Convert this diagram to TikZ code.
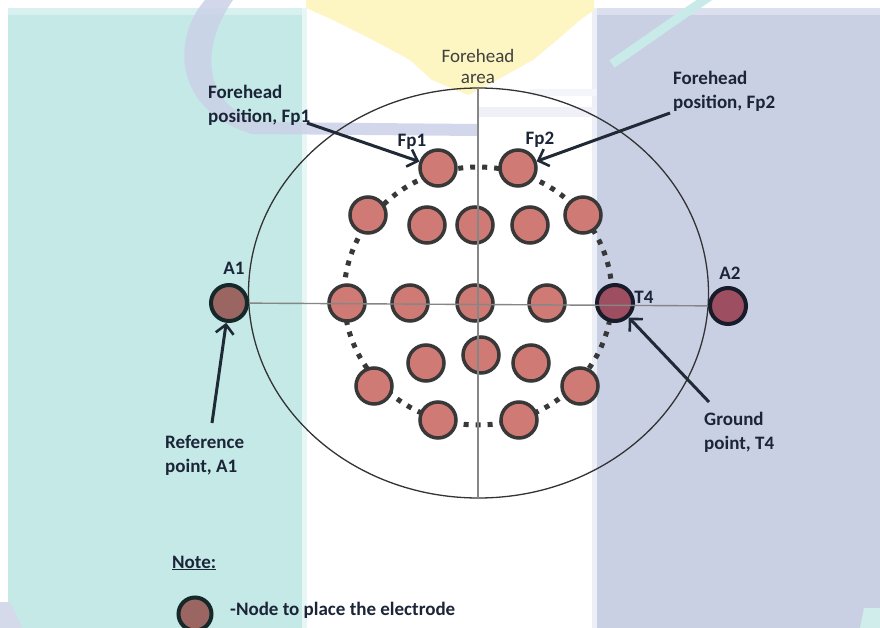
\documentclass[tikz,border=0pt]{standalone}
\usepackage{fontspec}
\setmainfont{Carlito}
\usetikzlibrary{arrows.meta}

\definecolor{tealbg}{HTML}{C4E9E7}
\definecolor{tealtop}{HTML}{D8F0EF}
\definecolor{lavbg}{HTML}{C9D0E4}
\definecolor{lavtop}{HTML}{DCE0EE}
\definecolor{swoosh}{HTML}{CCD1E8}
\definecolor{yel}{HTML}{FDF5C2}
\definecolor{tealdiag}{HTML}{C8EAE8}
\definecolor{skin}{HTML}{CF7A74}
\definecolor{rim}{HTML}{383838}
\definecolor{refill}{HTML}{9B6661}
\definecolor{refrim}{HTML}{15282A}
\definecolor{gndfill}{HTML}{9D4F61}
\definecolor{gndrim}{HTML}{181C2A}
\definecolor{ink}{HTML}{1C2538}
\definecolor{arrowink}{HTML}{1F2A36}
\definecolor{axisgray}{HTML}{868686}

\tikzset{
  elec/.style={circle, draw=rim, fill=skin, line width=3.5pt,
               minimum size=36pt, inner sep=0pt},
  refelec/.style={elec, draw=refrim, fill=refill, line width=4pt},
  gndelec/.style={elec, draw=gndrim, fill=gndfill, line width=4pt},
  axisline/.style={draw=axisgray, line width=1.4pt},
  headline/.style={draw=black!80, line width=1.3pt},
  ringdots/.style={draw=black!78, line width=5pt, dash pattern=on 5pt off 7pt},
  pointer/.style={draw=arrowink, line width=3pt,
                  -{Straight Barb[length=9pt,width=18pt,line width=2.6pt]}},
  lbl/.style={inner sep=0pt, text=ink, font=\fontsize{19}{24}\selectfont\bfseries},
  blockl/.style={lbl, align=left, anchor=west},
}

\begin{document}
\begin{tikzpicture}[x=1pt,y=-1pt]
\useasboundingbox (0,0) rectangle (880,628);

% ---- background panels ----
\fill[white] (0,0) rectangle (880,628);
\fill[tealbg] (8,8) rectangle (302,628);
\fill[tealtop] (8,8) rectangle (302,15);
\fill[tealtop!60!white] (302,8) rectangle (307,628);
\fill[lavbg] (597,8) rectangle (880,628);
\fill[lavtop] (597,8) rectangle (880,15);
\fill[lavtop!50!white] (592,8) rectangle (597,628);
\fill[yel] (306,0) -- (594,0) -- (594,10) -- (580,20) -- (557,40) -- (533,60)
  -- (497,80) -- (468,95) -- (432,80) -- (410,60) -- (373,40) -- (333,20)
  -- (306,8) -- cycle;
% faint swoosh of the watermark
\fill[swoosh, opacity=0.85] (205,0) .. controls (172,38) and (172,110) .. (252,134)
  -- (478,136) -- (478,124) -- (262,122)
  .. controls (204,108) and (198,50) .. (233,0) -- cycle;
\fill[swoosh!30!white] (478,107) rectangle (597,117);
\fill[swoosh!22!white] (530,89) rectangle (597,96);
\draw[tealdiag, line width=9pt] (710,-4) -- (612,64);
\fill[lavbg!80!white] (0,602) -- (10,602) -- (22,628) -- (0,628) -- cycle;
\fill[tealbg!80!white] (864,608) -- (880,608) -- (880,628) -- (860,628) -- cycle;

% ---- head outline and ring ----
\draw[headline] (478.5,293) ellipse [x radius=230, y radius=205];
\draw[ringdots] (478,296) ellipse [x radius=134, y radius=129];

% ---- electrodes ----
\node[elec] (fp1) at (438,168) {};
\node[elec] (fp2) at (518,168) {};
\node[elec] (f7) at (368,215) {};
\node[elec] (f3) at (427,225) {};
\node[elec] (fz) at (475,225) {};
\node[elec] (f4) at (530,225) {};
\node[elec] (f8) at (583,215) {};
\node[elec] (t3) at (347,303) {};
\node[elec] (c3) at (410,303) {};
\node[elec] (cz) at (475,303) {};
\node[elec] (c4) at (547,303) {};
\node[gndelec] (t4) at (615,303) {};
\node[refelec] (a1) at (229,303) {};
\node[gndelec] (a2) at (728,306) {};
\node[elec] (p3) at (426,363) {};
\node[elec] (pz) at (481,355) {};
\node[elec] (p4) at (531,363) {};
\node[elec] (t5) at (374,386) {};
\node[elec] (t6) at (580,386) {};
\node[elec] (o1) at (438,420) {};
\node[elec] (o2) at (519,420) {};

% ---- midlines ----
\coordinate (vtop) at (478,88);
\coordinate (vbot) at (478,498);
\draw[axisline] (vtop) -- (vbot);
\draw[axisline] (a1) -- (a2);

% ---- labels ----
\node[lbl, text=black!75, font=\fontsize{19}{21}\selectfont, align=center]
  (farea) at (478,66) {Forehead\\area};
\node[blockl] (lfp1) at (208,105) {Forehead\\position, Fp1};
\node[blockl] (lfp2) at (673,91) {Forehead\\position, Fp2};
\node[blockl] (lref) at (165,455.5) {Reference\\point, A1};
\node[blockl] (lgnd) at (704,432.5) {Ground\\point, T4};
\node[lbl] (tfp1) at (412,142) {Fp1};
\node[lbl] (tfp2) at (540,140) {Fp2};
\node[lbl] (ta1) at (234,268) {A1};
\node[lbl] (ta2) at (730,273) {A2};
\node[lbl] (tt4) at (644,297) {T4};

% ---- pointers ----
\coordinate (pfp1) at (307,123);
\coordinate (pfp2) at (670,113);
\coordinate (pref) at (212,423);
\coordinate (pgnd) at (709,402);
\draw[pointer] (pfp1) -- (fp1);
\draw[pointer] (pfp2) -- (fp2);
\draw[pointer] (pref) -- (a1);
\draw[pointer] (pgnd) -- (t4);

% ---- legend ----
\node[lbl, anchor=west] (note) at (172,563) {\underline{Note:}};
\node[refelec, minimum size=33pt] (legend) at (195,614) {};
\node[lbl, anchor=west] (legtext) at (230,610) {-Node to place the electrode};
\end{tikzpicture}
\end{document}
